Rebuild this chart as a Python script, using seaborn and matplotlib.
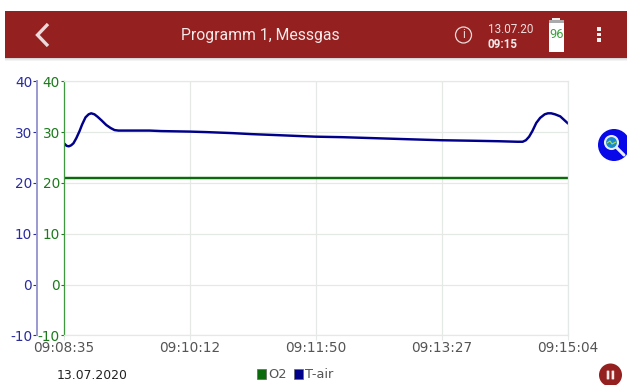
import matplotlib
matplotlib.use("Agg")
import matplotlib.pyplot as plt
from matplotlib.patches import Rectangle, Circle, FancyBboxPatch, Patch
import numpy as np
import pandas as pd
import seaborn as sns

# ---- data ----
seconds = [0, 2, 3.7, 5.5, 7.3, 9.5, 12, 14, 16.6, 19, 21, 23.5, 26, 29, 32.6, 36, 39, 42,
           66, 75, 97, 110, 130, 145, 165, 184, 194, 215, 240, 265, 291, 315, 336, 350, 354,
           356.5, 359, 361.5, 364.5, 367.5, 371, 373.5, 376, 379, 383, 386, 389]
t_air = [27.8, 27.3, 27.2, 27.4, 27.8, 28.8, 30.2, 31.5, 32.9, 33.5, 33.7, 33.5, 33.0, 32.3, 31.4, 30.8, 30.4, 30.3,
         30.3, 30.2, 30.1, 30.0, 29.8, 29.6, 29.4, 29.2, 29.1, 29.0, 28.8, 28.6, 28.4, 28.3, 28.2, 28.1, 28.1,
         28.4, 29.1, 30.2, 31.8, 32.8, 33.5, 33.7, 33.7, 33.5, 33.1, 32.4, 31.7]
o2_seconds = [0, 389]
o2 = [21.0, 21.0]
y_ticks = [-10, 0, 10, 20, 30, 40]
x_ticks = [0, 97.25, 194.5, 291.75, 389]
x_labels = ["09:08:35", "09:10:12", "09:11:50", "09:13:27", "09:15:04"]
title = "Programm 1, Messgas"
header_date = "13.07.20"
header_time = "09:15"
battery = "96"
footer_date = "13.07.2020"
series_names = ["O2", "T-air"]

RED = "#952020"
GREEN = "#1c7a1c"
BLUE = "#2b2b9e"
GRID = "#e4e9e6"
palette = {"O2": "#0b6a0b", "T-air": "#00008b"}

sns.set_theme(style="white")
plt.rcParams["font.family"] = ["DejaVu Sans"]
plt.rcParams["axes.unicode_minus"] = False

W, H = 627, 385
fig = plt.figure(figsize=(W / 100, H / 100), dpi=100)

# pixel-coordinate overlay for the app chrome
bg = fig.add_axes([0, 0, 1, 1], zorder=5)
bg.set_xlim(0, W); bg.set_ylim(H, 0); bg.axis("off"); bg.patch.set_alpha(0)

# chart
ax = fig.add_axes([64 / W, 1 - 335.3 / H, 504 / W, 254 / H], zorder=2)
df = pd.concat([
    pd.DataFrame({"s": o2_seconds, "v": o2, "series": "O2"}),
    pd.DataFrame({"s": seconds, "v": t_air, "series": "T-air"}),
])
sns.lineplot(data=df, x="s", y="v", hue="series", palette=palette, ax=ax, legend=False,
             linewidth=1.75, estimator=None, sort=False, clip_on=True)
ax.set_xlim(0, 389)
ax.set_ylim(-10, 40)
ax.set_xlabel(""); ax.set_ylabel("")
ax.set_xticks(x_ticks, x_labels)
ax.set_yticks(y_ticks)
ax.grid(True, color=GRID, linewidth=0.9)
ax.set_axisbelow(True)
for s in ("top", "right", "bottom"):
    ax.spines[s].set_color(GRID); ax.spines[s].set_linewidth(0.9)
ax.spines["left"].set_color("#3f973f"); ax.spines["left"].set_linewidth(0.9)
ax.tick_params(axis="x", length=3.5, width=0.8, color=GRID, labelsize=9.8, labelcolor="#555555", pad=0.3, bottom=True)
ax.tick_params(axis="y", length=2.5, width=0.8, color=GREEN, labelsize=9.8, labelcolor=GREEN, pad=0.5, left=True)

ax2 = ax.twinx()
ax2.set_ylim(-10, 40)
ax2.set_yticks(y_ticks)
ax2.yaxis.set_ticks_position("left")
ax2.yaxis.set_label_position("left")
for s in ("top", "right", "bottom"):
    ax2.spines[s].set_visible(False)
ax2.spines["left"].set_visible(True)
ax2.spines["left"].set_position(("outward", 27.5 * 72 / 100))
ax2.spines["left"].set_color("#9a9ad2"); ax2.spines["left"].set_linewidth(1.4)
ax2.tick_params(axis="y", length=2.6, width=0.8, color=BLUE, labelsize=9.8, labelcolor=BLUE, pad=0.5, left=True, right=False)
ax2.grid(False)

# header bar
for i, a in enumerate([0.35, 0.2, 0.1]):
    bg.add_patch(Rectangle((5, 58 + i), W - 5, 1, color="#8a8f8c", alpha=a, lw=0))
bg.add_patch(Rectangle((5, 11), W - 5, 47, color=RED, lw=0))
bg.plot([48, 37.5, 48], [24, 35, 46], color="#ecd9d9", lw=2.4, solid_capstyle="butt", solid_joinstyle="miter")
bg.text(260.5, 35.5, title, color="#f5eaea", fontsize=11.35, family="Roboto", ha="center", va="center")
bg.add_patch(Circle((463.5, 35), 8, fill=False, ec="#ecdcdc", lw=0.9))
bg.text(463.5, 35, "i", color="#ecdcdc", fontsize=8.5, family="Roboto", ha="center", va="center")
bg.text(488, 29.5, header_date, color="#f0dede", fontsize=8.4, family="Roboto", ha="left", va="center")
bg.text(488, 44, header_time, color="#f5eaea", fontsize=8.4, family="Roboto", weight="bold", ha="left", va="center")
# battery
bg.add_patch(Rectangle((552, 18), 8, 3, color="#eeeeee", lw=0))
bg.add_patch(Rectangle((548.5, 20), 15.5, 31.5, color="#ffffff", lw=0))
bg.add_patch(Rectangle((548.5, 20), 15.5, 2.5, color="#aaaaaa", lw=0))
bg.text(556.3, 35, battery, color="#3aa33a", fontsize=9.2, family="Roboto", ha="center", va="center")
# menu dots
for y in (29, 34.5, 40):
    bg.add_patch(Rectangle((597, y - 1.8), 3.6, 3.6, color="#f2f2f2", lw=0))

# zoom button
bg.add_patch(Circle((614, 145), 16, color="#0808e8", lw=0))
bg.add_patch(Circle((611.5, 142.5), 6.5, fc="#1a8ad0", ec="#e8eefc", lw=1.5))
bg.plot([607, 610, 612, 616], [143, 141, 144, 142], color="#b5e030", lw=0.8)
bg.plot([616.5, 624], [147.5, 155], color="#e8eefc", lw=2.2)

# pause button
bg.add_patch(Circle((610.5, 375), 11.5, color=RED, lw=0))
for x in (606.7, 611.6):
    bg.add_patch(FancyBboxPatch((x + 0.4, 371), 1.8, 8, boxstyle="round,pad=0.4", color="#f5e8e8", lw=0))

# footer
bg.text(57, 375.5, footer_date, color="#222222", fontsize=8.9, ha="left", va="center")
handles = [Patch(facecolor=palette[n], edgecolor="#666666", linewidth=0.5, label=n) for n in series_names]
fig.legend(handles=handles, ncol=2, frameon=False, fontsize=9.3, labelcolor="#555555",
           loc="center left", bbox_to_anchor=(257 / W, 1 - 375 / H), handlelength=0.7, handleheight=0.7,
           handletextpad=0.2, columnspacing=0.5, borderpad=0, borderaxespad=0)

fig.savefig("out.png", dpi=100, facecolor="white")
